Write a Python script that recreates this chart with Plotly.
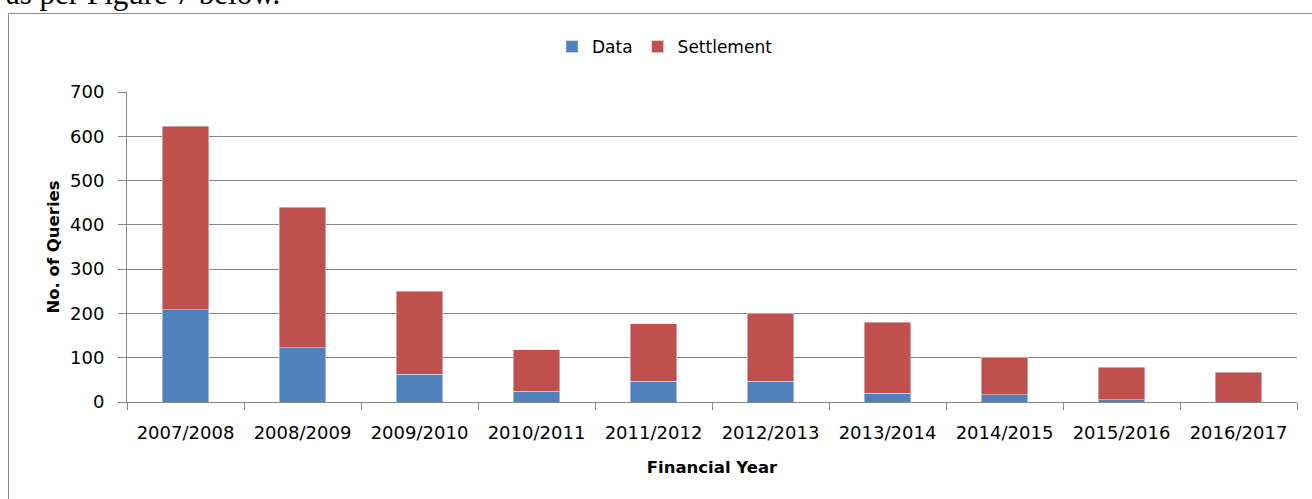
import plotly.graph_objects as go

years = ["2007/2008", "2008/2009", "2009/2010", "2010/2011", "2011/2012",
         "2012/2013", "2013/2014", "2014/2015", "2015/2016", "2016/2017"]
data_q = [208, 122, 63, 24, 47, 47, 20, 16, 5, 0]
settlement_q = [415, 318, 187, 94, 130, 153, 160, 85, 73, 67]
y_ticks = [0, 100, 200, 300, 400, 500, 600, 700]

W, H = 1312, 499
FONT = "DejaVu Sans"
GRID = "#868686"

fig = go.Figure()
fig.add_trace(go.Bar(name="Data", x=years, y=data_q, marker_color="#4F81BD"))
fig.add_trace(go.Bar(name="Settlement", x=years, y=settlement_q, marker_color="#C0504D"))

x0, x1 = 127, 1297
yt, yb = 92, 402
fig.update_layout(
    width=W, height=H,
    margin=dict(l=0, r=0, t=0, b=0, autoexpand=False),
    paper_bgcolor="white", plot_bgcolor="white",
    barmode="stack", bargap=0.6,
    font=dict(family=FONT, size=17, color="#000000"),
    legend=dict(orientation="h", x=665 / W, xanchor="center", y=(H - 47) / H, yanchor="middle",
                font=dict(family=FONT, size=17), itemclick=False, traceorder="normal"),
    xaxis=dict(domain=[x0 / W, x1 / W], showline=True, linecolor=GRID, linewidth=1,
               ticks="outside", tickson="boundaries", ticklen=7, tickcolor=GRID,
               ticklabelstandoff=14, tickfont=dict(family=FONT, size=18), automargin=False,
               title=dict(text="<b>Financial Year</b>", font=dict(family=FONT, size=16.5), standoff=19)),
    yaxis=dict(domain=[(H - yb) / H, (H - yt) / H], range=[0, 700], tickvals=y_ticks,
               showline=True, linecolor=GRID, linewidth=1, showgrid=True, gridcolor=GRID,
               gridwidth=1, zeroline=False, ticks="outside", ticklen=8, tickcolor=GRID,
               ticklabelstandoff=10, tickfont=dict(family=FONT, size=18), automargin=False,
               title=dict(text="<b>No. of Queries</b>", font=dict(family=FONT, size=16.5), standoff=6)),
)

# chart frame
fig.add_shape(type="rect", xref="paper", yref="paper",
              x0=8.5 / W, x1=1.02, y0=-0.05, y1=(H - 13.5) / H,
              line=dict(color="#8c8c8c", width=1), fillcolor="rgba(0,0,0,0)", layer="below")

# surrounding document text, cut by the top edge as in the source
fig.add_annotation(text="as per Figure 7 below.", xref="paper", yref="paper",
                   x=4 / W, xanchor="left", y=(H - 13) / H, yanchor="bottom",
                   showarrow=False, font=dict(family="Liberation Serif", size=31, color="#000"))

fig.write_html("out.html", config={"displayModeBar": False},
               post_script="document.body.style.margin='0';")
